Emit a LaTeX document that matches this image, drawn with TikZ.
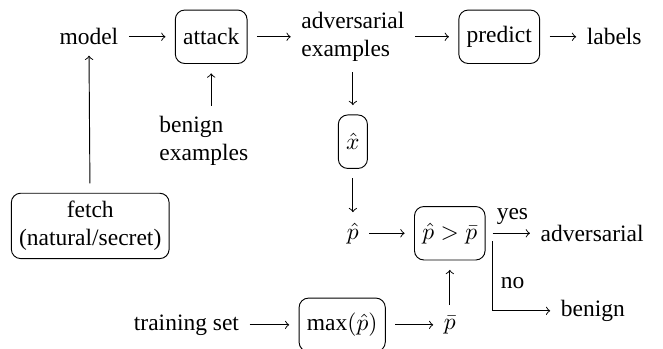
\documentclass[tikz,border=0pt]{standalone}
\usepackage{amsmath}
\usepackage{fontspec}
\setmainfont{Liberation Serif}
\usetikzlibrary{positioning,calc}

\begin{document}
\begin{tikzpicture}[proc/.style={draw, rounded corners, minimum height=.8cm, outer sep=3.2pt},
	info/.style={align=left},
	flow/.style={->, shorten >=1pt, shorten <=1pt},
	every node/.style={font=\rmfamily}]
	\useasboundingbox (0,0) rectangle (9.92,-5.21);
	% top row
	\node (model) at (1.33,-.55) {model};
	\node[proc] (attack) at (3.16,-.55) {attack};
	\node[info] (advex) at (5.28,-.55) {adversarial\\examples};
	\node[proc] (predict) at (7.47,-.55) {predict};
	\node (labels) at (9.19,-.55) {labels};
	\node[info] (benign) at (3.05,-2.11) {benign\\examples};
	\node[proc] (xhat) at (5.28,-2.12) {$\hat{x}$};
	% detection
	\node[proc, align=center] (fetch) at (1.35,-3.38) {fetch\\(natural/secret)};
	\node (phat) at (5.28,-3.49) {$\hat{p}$};
	\node[proc] (cmp) at (6.73,-3.49) {$\hat{p}>\bar{p}$};
	\node (isadv) at (8.86,-3.49) {adversarial};
	\node (isben) at (8.87,-4.65) {benign};
	\node (train) at (2.79,-4.86) {training set};
	\node[proc] (pmax) at (5.12,-4.86) {$\max(\hat{p})$};
	\node (pbar) at (6.73,-4.86) {$\bar{p}$};
	\draw[flow] (model) -- (attack);
	\draw[flow] (attack) -- (advex);
	\draw[flow] (advex) -- (predict);
	\draw[flow] (predict) -- (labels);
	\draw[flow] (attack|-benign.north) -- (attack);
	\draw[flow] (fetch) -- (model);
	\draw[flow] (advex) -- (xhat);
	\draw[flow] (xhat) -- (phat);
	\draw[flow] (phat) -- (cmp);
	\draw[flow] (train) -- (pmax);
	\draw[flow] (pmax) -- (pbar);
	\draw[flow] (pbar) -- (cmp);
	\draw[->, shorten >=1pt] (cmp.east) -- node[above] {yes} (isadv);
	\draw[->, shorten >=1pt] ([yshift=-.12cm]cmp.east) |- node[right, pos=.3] {no} (isben);
\end{tikzpicture}
\end{document}
